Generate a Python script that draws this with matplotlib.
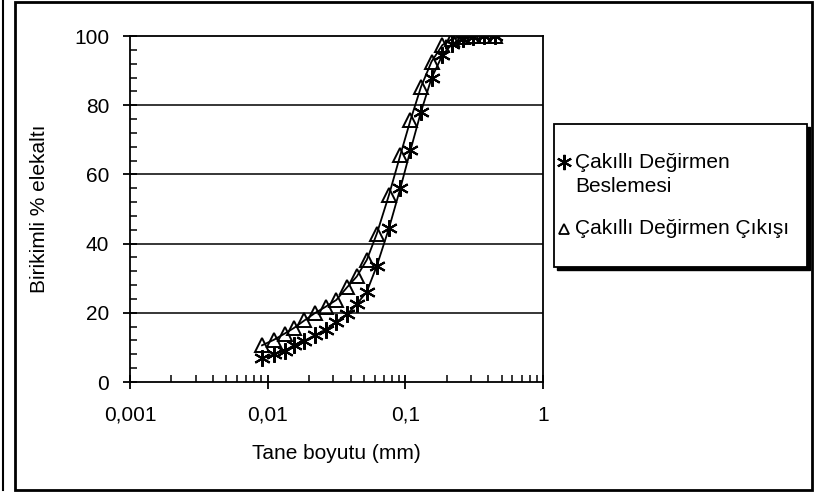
import matplotlib
matplotlib.use("Agg")
import matplotlib.pyplot as plt
from matplotlib.patches import Rectangle
from matplotlib.lines import Line2D
from matplotlib.ticker import FixedLocator, FuncFormatter, NullFormatter
import numpy as np

plt.rcParams["font.family"] = ["Liberation Sans", "DejaVu Sans"]

# particle sizes (mm), shared by both curves
size_mm = [0.0091, 0.0111, 0.0133, 0.0155, 0.0185, 0.0220, 0.0265, 0.0315,
           0.0378, 0.0444, 0.0525, 0.0620, 0.0760, 0.0920, 0.1090, 0.1300,
           0.1550, 0.1860, 0.2200, 0.2620, 0.3100, 0.3700, 0.4500]

# cumulative % passing
feed_pct = [6.8, 8.0, 9.0, 10.6, 11.9, 13.5, 15.1, 17.4, 19.6, 22.5, 26.1,
            33.5, 44.4, 56.0, 67.0, 78.1, 87.8, 94.5, 97.8, 99.2, 99.8,
            100.0, 100.0]
product_pct = [10.6, 12.2, 14.0, 15.6, 17.8, 19.9, 21.8, 23.7, 27.4, 30.5,
               35.3, 42.8, 54.0, 65.6, 75.7, 85.3, 92.6, 97.4, 99.2, 99.8,
               100.0, 100.0, 100.0]

series_labels = [["Çakıllı Değirmen", "Beslemesi"], ["Çakıllı Değirmen Çıkışı"]]
x_ticks = [0.001, 0.01, 0.1, 1]
x_tick_labels = ["0,001", "0,01", "0,1", "1"]
y_ticks = [0, 20, 40, 60, 80, 100]

W, H = 814, 493


def fx(px):
    return px / W


def fy(py):
    return 1 - py / H


fig = plt.figure(figsize=(W / 100, H / 100), dpi=100)
ax = fig.add_axes([fx(130), fy(382), 413 / W, 346 / H])

star = (6, 2, 0)
ax.plot(size_mm, feed_pct, color="black", lw=1.3, marker=star,
        markersize=12, markeredgewidth=1.5)
ax.plot(size_mm, product_pct, color="black", lw=1.3, marker="^",
        markersize=10, markerfacecolor="none", markeredgewidth=1.4)

ax.set_xscale("log")
ax.set_xlim(0.001, 1)
ax.set_ylim(0, 100)

ax.xaxis.set_major_locator(FixedLocator(x_ticks))
ax.xaxis.set_major_formatter(FuncFormatter(
    lambda v, p: x_tick_labels[x_ticks.index(v)] if v in x_ticks else ""))
ax.xaxis.set_minor_formatter(NullFormatter())
ax.set_yticks(y_ticks)
ax.set_yticks(np.arange(0, 101, 4), minor=True)

ax.tick_params(axis="both", which="major", direction="inout", length=10,
               width=1.3, labelsize=15)
ax.tick_params(axis="x", which="major", pad=12)
ax.tick_params(axis="y", which="major", pad=10)
ax.tick_params(axis="both", which="minor", direction="in", length=5,
               width=1.1)
ax.tick_params(axis="y", which="both", right=False)
ax.tick_params(axis="x", which="both", top=False)

for y in y_ticks[1:-1]:
    ax.axhline(y, color="black", lw=1.1, zorder=0)

for s in ax.spines.values():
    s.set_linewidth(1.3)

ax.set_xlabel("Tane boyutu (mm)", fontsize=15, labelpad=14)
ax.set_ylabel("Birikimli % elekaltı", fontsize=15, labelpad=18)

# legend box with a drop shadow
bx, by, bw, bh = 554, 124, 253, 143
fig.patches.append(Rectangle((fx(bx + 3), fy(by + bh + 3)), bw / W, bh / H,
                             transform=fig.transFigure, facecolor="black",
                             edgecolor="black"))
fig.patches.append(Rectangle((fx(bx), fy(by + bh)), bw / W, bh / H,
                             transform=fig.transFigure, facecolor="white",
                             edgecolor="black", lw=1.3))
fig.lines.append(Line2D([fx(564)], [fy(162)], transform=fig.transFigure,
                        ls="none", color="black", marker=star, markersize=11,
                        markeredgewidth=1.5))
fig.lines.append(Line2D([fx(564)], [fy(229)], transform=fig.transFigure,
                        ls="none", color="black", marker="^", markersize=7,
                        markerfacecolor="none", markeredgewidth=1.3))
for text, py in zip(series_labels[0] + series_labels[1], [162, 187, 229]):
    fig.text(fx(575), fy(py), text, fontsize=15, va="center", ha="left")

# outer frame
fig.patches.append(Rectangle((fx(15), fy(490)), 797 / W, 488 / H,
                             transform=fig.transFigure, facecolor="none",
                             edgecolor="black", lw=2.0))
fig.lines.append(Line2D([fx(3), fx(3)], [fy(490), 1],
                        transform=fig.transFigure, color="black", lw=1.5))

fig.savefig("out.png", dpi=100)
